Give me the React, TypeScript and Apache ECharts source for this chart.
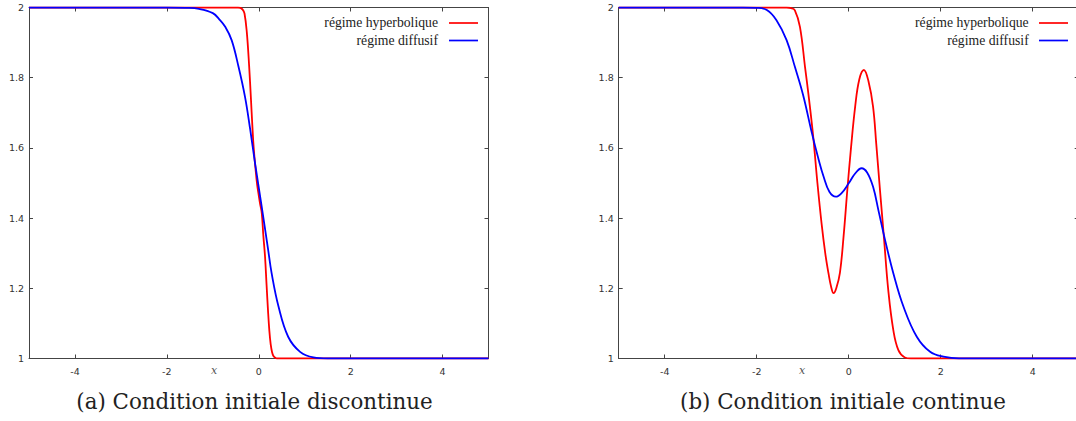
import React, { useEffect, useRef } from "react";
import * as echarts from "echarts";

const xTicks = [-4, -2, 0, 2, 4];
const yTicks = [1, 1.2, 1.4, 1.6, 1.8, 2];
const seriesNames = ["régime hyperbolique", "régime diffusif"];
const captions = ["(a) Condition initiale discontinue", "(b) Condition initiale continue"];
const axisName = "x";

// (a) discontinuous initial condition
const hypDiscontinue: [number, number][] = [
  [-5, 2], [-0.45, 2], [-0.4, 1.999], [-0.35, 1.994], [-0.31, 1.983], [-0.26, 1.93],
  [-0.21, 1.835], [-0.17, 1.74], [-0.14, 1.665], [-0.11, 1.6], [-0.07, 1.54],
  [-0.035, 1.495], [0, 1.465], [0.03, 1.44], [0.065, 1.415], [0.1, 1.35],
  [0.137, 1.29], [0.17, 1.21], [0.2, 1.14], [0.23, 1.08], [0.26, 1.04],
  [0.29, 1.018], [0.32, 1.007], [0.36, 1.002], [0.4, 1], [5, 1],
];
const diffDiscontinue: [number, number][] = [
  [-5, 2], [-2, 2], [-1.6, 1.999], [-1.3, 1.996], [-1.0, 1.984], [-0.85, 1.965],
  [-0.73, 1.945], [-0.59, 1.907], [-0.44, 1.831], [-0.3, 1.746], [-0.19, 1.656],
  [-0.08, 1.556], [0.065, 1.432], [0.2, 1.314], [0.28, 1.243], [0.43, 1.148],
  [0.64, 1.062], [0.9, 1.019], [1.19, 1.003], [1.5, 1], [5, 1],
];

// (b) continuous initial condition
const hypContinue: [number, number][] = [
  [-5, 2], [-1.35, 2], [-1.25, 1.998], [-1.17, 1.992], [-1.06, 1.945], [-0.95, 1.831],
  [-0.86, 1.736], [-0.77, 1.63], [-0.68, 1.5], [-0.59, 1.385], [-0.51, 1.3],
  [-0.44, 1.243], [-0.38, 1.203], [-0.33, 1.186], [-0.27, 1.2], [-0.19, 1.245],
  [-0.11, 1.35], [-0.03, 1.48], [0.05, 1.6], [0.14, 1.717], [0.23, 1.795],
  [0.33, 1.822], [0.43, 1.79], [0.53, 1.717], [0.6, 1.61], [0.68, 1.48],
  [0.77, 1.338], [0.86, 1.195], [0.97, 1.081], [1.08, 1.024], [1.22, 1.003],
  [1.35, 1], [5, 1],
];
const diffContinue: [number, number][] = [
  [-5, 2], [-2.3, 2], [-2.0, 1.999], [-1.78, 1.993], [-1.57, 1.964], [-1.35, 1.907],
  [-1.17, 1.831], [-0.99, 1.75], [-0.8, 1.642], [-0.65, 1.565], [-0.55, 1.52],
  [-0.42, 1.475], [-0.28, 1.461], [-0.15, 1.472], [0, 1.499], [0.14, 1.527],
  [0.28, 1.542], [0.4, 1.53], [0.53, 1.489], [0.65, 1.42], [0.79, 1.338],
  [0.97, 1.243], [1.19, 1.148], [1.48, 1.062], [1.77, 1.019], [2.06, 1.005],
  [2.4, 1], [5, 1],
];

const AXIS_COLOR = "#444";
const RED = "#ff0000";
const BLUE = "#0000ff";
const SERIF_LEGEND = "'Liberation Serif', 'Times New Roman', serif";
const SERIF_CAPTION = "'DejaVu Serif', 'Liberation Serif', serif";

export default function App() {
  const ref = useRef<HTMLDivElement>(null);
  useEffect(() => {
    if (!ref.current) return;
    const chart = echarts.init(ref.current, undefined, { renderer: "svg" });

    const grids = [
      { left: 29, top: 7.5, width: 459.5, height: 351 },
      { left: 618.7, top: 7.5, width: 460, height: 351 },
    ];

    const tickCommon = {
      inside: true,
      length: 4,
      lineStyle: { color: AXIS_COLOR, width: 1 },
    };

    const xAxes: any[] = [];
    const yAxes: any[] = [];
    grids.forEach((_, gi) => {
      xAxes.push({
        type: "value", gridIndex: gi, position: "bottom", min: -5, max: 5,
        axisLine: { show: true, onZero: false, lineStyle: { color: AXIS_COLOR, width: 1 } },
        axisTick: { ...tickCommon, customValues: xTicks },
        axisLabel: {
          customValues: xTicks, fontSize: 9.5, color: "#333", margin: 8,
          fontFamily: "'DejaVu Sans', sans-serif",
        },
        splitLine: { show: false },
      });
      xAxes.push({
        type: "value", gridIndex: gi, position: "top", min: -5, max: 5,
        axisLine: { show: true, onZero: false, lineStyle: { color: AXIS_COLOR, width: 1 } },
        axisTick: { ...tickCommon, customValues: xTicks },
        axisLabel: { show: false },
        splitLine: { show: false },
      });
      yAxes.push({
        type: "value", gridIndex: gi, position: "left", min: 1, max: 2,
        axisLine: { show: true, onZero: false, lineStyle: { color: AXIS_COLOR, width: 1 } },
        axisTick: { ...tickCommon, customValues: yTicks },
        axisLabel: {
          customValues: yTicks, fontSize: 9.5, color: "#333", margin: 5,
          fontFamily: "'DejaVu Sans', sans-serif",
        },
        splitLine: { show: false },
      });
      yAxes.push({
        type: "value", gridIndex: gi, position: "right", min: 1, max: 2,
        axisLine: { show: true, onZero: false, lineStyle: { color: AXIS_COLOR, width: 1 } },
        axisTick: { ...tickCommon, customValues: yTicks },
        axisLabel: { show: false },
        splitLine: { show: false },
      });
    });

    const mk = (name: string, data: [number, number][], gi: number, color: string) => ({
      type: "line",
      name,
      data,
      xAxisIndex: gi * 2,
      yAxisIndex: gi * 2,
      showSymbol: false,
      symbol: "none",
      smooth: 0.4,
      clip: true,
      lineStyle: { color, width: 1.8 },
      itemStyle: { color },
    });

    const legendGraphics: any[] = [];
    const legendTextRight = [438, 1028.7];
    const legendLineStart = [449, 1039];
    const legendRows = [22.5, 40];
    const colors = [RED, BLUE];
    grids.forEach((_, gi) => {
      seriesNames.forEach((nm, si) => {
        legendGraphics.push({
          type: "text",
          x: legendTextRight[gi],
          y: legendRows[si],
          style: {
            text: nm, align: "right", verticalAlign: "middle",
            fontFamily: SERIF_LEGEND, fontSize: 13.7, fill: "#222",
          },
        });
        legendGraphics.push({
          type: "line",
          shape: { x1: legendLineStart[gi], y1: legendRows[si] + 0.5, x2: legendLineStart[gi] + 29, y2: legendRows[si] + 0.5 },
          style: { stroke: colors[si], lineWidth: 1.7 },
        });
      });
    });

    const captionCenters = [254.5, 843];
    const xNamePos = [214, 802];
    const otherGraphics: any[] = [];
    grids.forEach((_, gi) => {
      otherGraphics.push({
        type: "text",
        x: captionCenters[gi],
        y: 401.5,
        style: {
          text: captions[gi], align: "center", verticalAlign: "middle",
          fontFamily: SERIF_CAPTION, fontSize: 21.4, fill: "#222",
        },
      });
      otherGraphics.push({
        type: "text",
        x: xNamePos[gi],
        y: 370,
        style: {
          text: axisName, align: "center", verticalAlign: "middle",
          fontFamily: SERIF_CAPTION, fontStyle: "italic", fontSize: 11, fill: "#555",
        },
      });
    });

    chart.setOption({
      animation: false,
      backgroundColor: "#ffffff",
      grid: grids,
      xAxis: xAxes,
      yAxis: yAxes,
      series: [
        mk(seriesNames[0], hypDiscontinue, 0, RED),
        mk(seriesNames[1], diffDiscontinue, 0, BLUE),
        mk(seriesNames[0], hypContinue, 1, RED),
        mk(seriesNames[1], diffContinue, 1, BLUE),
      ],
      graphic: [...legendGraphics, ...otherGraphics],
    });

    return () => chart.dispose();
  }, []);

  return (
    <div style={{ position: "fixed", left: 0, top: 0, width: 1076, height: 421, overflow: "hidden", background: "#fff" }}>
      <div ref={ref} style={{ width: 1090, height: 421 }} />
    </div>
  );
}
